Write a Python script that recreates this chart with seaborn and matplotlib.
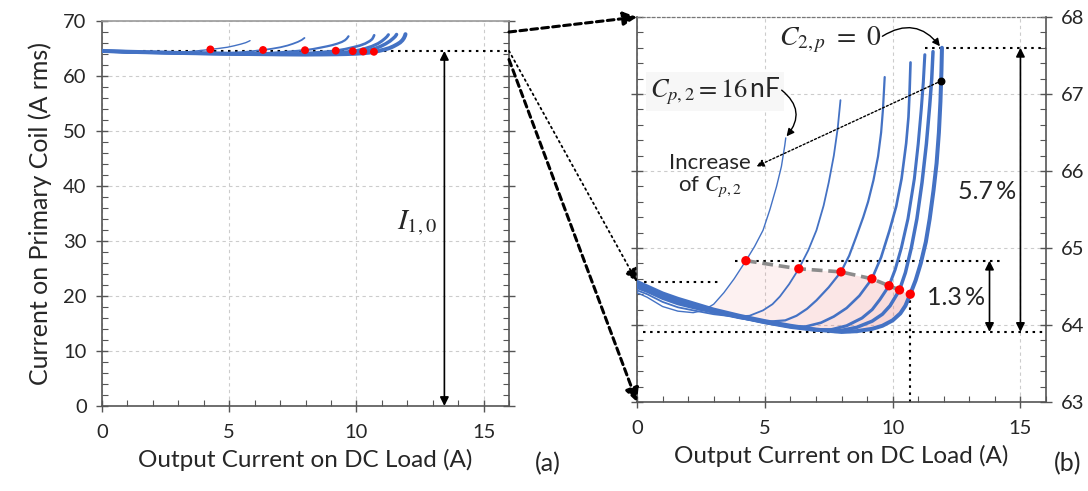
import numpy as np
import pandas as pd
import matplotlib
matplotlib.use("Agg")
import matplotlib.pyplot as plt
import seaborn as sns
from matplotlib.patches import ConnectionPatch
from matplotlib.ticker import MultipleLocator

# ---- data: primary coil current vs DC load current, one curve per Cp,2 ----
curve_ids = [1, 2, 3, 4, 5, 6, 7]   # 1 = Cp,2 = 16 nF ... 7 = C2,p = 0

x_c1 = [0, 0.4, 1.0, 1.6, 2.2, 2.6, 3.0, 3.4, 3.8, 4.26, 4.6, 4.93, 5.2, 5.46, 5.65, 5.78, 5.82]
y_c1 = [64.42, 64.36, 64.24, 64.18, 64.16, 64.19, 64.27, 64.42, 64.60, 64.835, 65.02, 65.23, 65.50,
        65.80, 66.06, 66.33, 66.43]

x_c2 = [0, 0.4, 1.0, 1.6, 2.2, 3.0, 3.8, 4.4, 4.93, 5.3, 5.59, 5.95, 6.33, 6.7, 7.02, 7.3, 7.5,
        7.7, 7.85, 7.96]
y_c2 = [64.45, 64.40, 64.30, 64.23, 64.19, 64.14, 64.11, 64.12, 64.19, 64.27, 64.37, 64.53, 64.73,
        64.97, 65.23, 65.55, 65.85, 66.2, 66.55, 66.92]

x_c3 = [0, 0.4, 1.0, 1.6, 2.2, 3.0, 4.0, 5.0, 5.8, 6.24, 6.65, 7.02, 7.5, 7.98, 8.3, 8.58, 8.85,
        9.04, 9.25, 9.43, 9.55, 9.62, 9.69]
y_c3 = [64.48, 64.43, 64.34, 64.27, 64.22, 64.16, 64.09, 64.04, 64.06, 64.12, 64.21, 64.32, 64.49,
        64.69, 64.90, 65.15, 65.40, 65.60, 65.88, 66.19, 66.5, 66.79, 67.22]

x_c4 = [0, 0.4, 1.0, 1.6, 2.2, 3.0, 4.0, 5.0, 6.0, 6.6, 7.2, 7.7, 8.2, 8.7, 9.19, 9.55, 9.88,
        10.14, 10.35, 10.53, 10.62, 10.66, 10.70]
y_c4 = [64.50, 64.45, 64.36, 64.29, 64.24, 64.17, 64.10, 64.03, 63.98, 63.98, 64.03, 64.11, 64.22,
        64.38, 64.60, 64.88, 65.23, 65.54, 65.9, 66.36, 66.7, 67.0, 67.41]

x_c5 = [0, 0.4, 1.0, 1.6, 2.2, 3.0, 4.0, 5.0, 6.0, 7.0, 7.6, 8.2, 8.8, 9.2, 9.5, 9.86, 10.1,
        10.34, 10.6, 10.85, 11.0, 11.12, 11.2, 11.26]
y_c5 = [64.52, 64.47, 64.38, 64.31, 64.26, 64.18, 64.10, 64.03, 63.97, 63.93, 63.94, 63.99, 64.09,
        64.20, 64.33, 64.51, 64.72, 65.0, 65.38, 65.9, 66.35, 66.8, 67.15, 67.51]

x_c6 = [0, 0.4, 1.0, 1.6, 2.2, 3.0, 4.0, 5.0, 6.0, 7.0, 8.0, 8.6, 9.2, 9.6, 9.9, 10.27, 10.5,
        10.73, 10.95, 11.15, 11.32, 11.45, 11.53, 11.58]
y_c6 = [64.54, 64.49, 64.40, 64.33, 64.27, 64.19, 64.11, 64.04, 63.98, 63.94, 63.93, 63.97, 64.05,
        64.14, 64.25, 64.455, 64.68, 65.0, 65.38, 65.85, 66.35, 66.85, 67.2, 67.55]

x_c7 = [0, 0.4, 1.0, 1.6, 2.2, 3.0, 4.0, 5.0, 6.0, 7.0, 8.0, 8.6, 9.2, 9.6, 10.0, 10.3, 10.5,
        10.69, 10.9, 11.1, 11.3, 11.45, 11.6, 11.72, 11.81, 11.87, 11.91, 11.93]
y_c7 = [64.56, 64.50, 64.41, 64.34, 64.28, 64.20, 64.12, 64.05, 63.99, 63.94, 63.91, 63.92, 63.95,
        63.99, 64.06, 64.15, 64.25, 64.40, 64.58, 64.80, 65.08, 65.38, 65.75, 66.1, 66.5, 66.9,
        67.3, 67.6]

# operating points (red markers) on each curve
dot_x = [4.26, 6.33, 7.98, 9.19, 9.86, 10.27, 10.69]
dot_y = [64.835, 64.73, 64.69, 64.60, 64.51, 64.455, 64.40]

# reference levels
i_10 = 64.56          # no-load primary current
i_peak = 67.6         # end of the C2,p = 0 curve
i_min = 63.91         # lowest primary current
i_op_top = 64.835     # highest operating point
mark_pt = (11.9, 67.17)
pct_full = "5.7\u2009%"
pct_op = "1.3\u2009%"

xticks = [0, 5, 10, 15]

# ---- long-form table for seaborn ----
xs_all = [x_c1, x_c2, x_c3, x_c4, x_c5, x_c6, x_c7]
ys_all = [y_c1, y_c2, y_c3, y_c4, y_c5, y_c6, y_c7]
df = pd.concat([pd.DataFrame({"curve": cid, "x": xs, "y": ys})
                for cid, xs, ys in zip(curve_ids, xs_all, ys_all)], ignore_index=True)
dots = pd.DataFrame({"x": dot_x, "y": dot_y})

sns.set_style("white")
plt.rcParams["font.family"] = ["Lato", "DejaVu Sans"]
plt.rcParams["mathtext.fontset"] = "stix"

BLUE = "#4472C4"
SPINE = "#555555"
GRID = "#cccccc"
DOT = (0, (1.2, 2.2))
LABEL_FS = 17.5
TICK_FS = 14.5

fig = plt.figure(figsize=(10.88, 4.91), dpi=100)
ax1 = fig.add_axes([102 / 1088, 85 / 491, 407 / 1088, 385 / 491])
ax2 = fig.add_axes([637 / 1088, 89 / 491, 409 / 1088, 385 / 491])

line_sizes = dict(zip(curve_ids, [1.0, 1.3, 1.6, 1.9, 2.2, 2.5, 2.9]))

for ax in (ax1, ax2):
    ax.set_xlim(0, 16)
    ax.xaxis.set_major_locator(MultipleLocator(5))
    ax.xaxis.set_minor_locator(MultipleLocator(1))
    ax.grid(True, which="major", linestyle=(0, (3, 3)), color=GRID, lw=0.8)
    ax.set_axisbelow(True)
    for s in ax.spines.values():
        s.set_color(SPINE)
        s.set_linewidth(1.2)
    ax.tick_params(which="major", direction="inout", length=8, width=1, color=SPINE,
                   labelsize=TICK_FS, pad=9)
    ax.tick_params(which="minor", direction="in", length=4, width=0.8, color=SPINE)
    sns.lineplot(data=df, x="x", y="y", hue="curve", size="curve", sizes=line_sizes,
                 palette=[BLUE] * len(curve_ids), sort=False, estimator=None,
                 legend=False, ax=ax, zorder=3)
    ax.set_xticks(xticks)
    ax.set_xticklabels([str(t) for t in xticks])

# ---- panel (a): full scale ----
ax1.set_ylim(0, 70)
ax1.yaxis.set_major_locator(MultipleLocator(10))
ax1.yaxis.set_minor_locator(MultipleLocator(2))
ax1.tick_params(axis="y", which="both", left=True, right=True)
ax1.tick_params(axis="y", which="major", pad=7)
ax1.tick_params(axis="x", which="both", bottom=True, top=False)
ax1.spines["top"].set_color("#9a9a9a")
sns.scatterplot(data=dots, x="x", y="y", color="red", s=32, edgecolor="none", ax=ax1, zorder=5)
ax1.set_xlabel("Output Current on DC Load (A)", fontsize=LABEL_FS, labelpad=6)
ax1.set_ylabel("Current on Primary Coil (A rms)", fontsize=18, labelpad=8)

ax1.plot([1.6, 16], [i_10, i_10], color="black", lw=1.5, linestyle=DOT, zorder=2)
ax1.annotate("", xy=(13.46, 0), xytext=(13.46, i_10),
             arrowprops=dict(arrowstyle="<|-|>", color="black", lw=1.2, mutation_scale=13,
                             shrinkA=0, shrinkB=0), zorder=4)
ax1.text(12.4, 33.3, r"$I_{1,0}$", fontsize=21, ha="center", va="center")

# ---- panel (b): zoomed scale ----
ax2.set_ylim(63, 68)
ax2.yaxis.set_major_locator(MultipleLocator(1))
ax2.yaxis.set_minor_locator(MultipleLocator(0.2))
ax2.yaxis.tick_right()
ax2.tick_params(axis="y", which="both", left=True, right=True, labelleft=False, labelright=True)
ax2.tick_params(axis="y", which="major", pad=7)
ax2.tick_params(axis="x", which="both", bottom=True, top=False)
ax2.spines["top"].set_linestyle((0, (2, 2)))
ax2.spines["top"].set_color("#777777")
ax2.spines["top"].set_linewidth(0.9)

# shaded region between the lower envelope and the operating-point locus
xg = np.linspace(0, dot_x[-1], 1200)
grid_vals = np.array([np.interp(xg, xs, ys, right=np.inf) for xs, ys in zip(xs_all, ys_all)])
envelope = grid_vals.min(axis=0)
locus = np.interp(xg, dot_x, dot_y, left=np.inf, right=np.inf)
for k, (xs, ys) in enumerate(zip(xs_all, ys_all)):
    x_lo = xs[int(np.argmin(ys))]
    upper = np.minimum(locus, grid_vals[k])
    mask = (xg >= x_lo) & (upper > envelope)
    ax2.fill_between(xg, envelope, np.where(mask, upper, envelope), where=mask,
                     color="#f07878", alpha=0.10 if k == 0 else 0.045, lw=0, zorder=1)

ax2.plot(dot_x, dot_y, color="#8c8c8c", lw=2.6, linestyle=(0, (3, 1.6)), zorder=4)
sns.scatterplot(data=dots, x="x", y="y", color="red", s=45, edgecolor="none", ax=ax2, zorder=6)
ax2.scatter([mark_pt[0]], [mark_pt[1]], color="black", s=22, zorder=6)
ax2.set_xlabel("Output Current on DC Load (A)", fontsize=LABEL_FS, labelpad=6)
ax2.set_ylabel("")

# dotted guide lines
ax2.plot([0, 3.16], [i_10, i_10], color="black", lw=1.5, linestyle=DOT, zorder=2)
ax2.plot([11.25, 16], [i_peak, i_peak], color="black", lw=1.5, linestyle=DOT, zorder=2)
ax2.plot([3.83, 14.25], [i_op_top, i_op_top], color="black", lw=1.5, linestyle=DOT, zorder=2)
ax2.plot([0.25, 16], [i_min, i_min], color="black", lw=1.5, linestyle=DOT, zorder=2)
ax2.plot([dot_x[-1], dot_x[-1]], [63, dot_y[-1]], color="black", lw=1.5, linestyle=DOT, zorder=2)

arr2 = dict(arrowstyle="<|-|>", color="black", lw=1.2, mutation_scale=13, shrinkA=0, shrinkB=0)
ax2.annotate("", xy=(15, i_peak), xytext=(15, i_min), arrowprops=arr2)
ax2.annotate("", xy=(13.79, i_op_top), xytext=(13.79, i_min), arrowprops=arr2)
ax2.text(13.68, 65.73, pct_full, fontsize=18, ha="center", va="center")
ax2.text(12.5, 64.36, pct_op, fontsize=18, ha="center", va="center")

ax2.text(7.54, 67.71, r"$C_{2,p}\ =\ 0$", fontsize=20, ha="center", va="center")
ax2.annotate("", xy=(11.85, i_peak + 0.02), xytext=(9.6, 67.75),
             arrowprops=dict(arrowstyle="-|>", color="black", lw=1.0, mutation_scale=11,
                             connectionstyle="arc3,rad=-0.45", shrinkA=0, shrinkB=0))

ax2.text(3.05, 67.03, r"$C_{p,2} = 16\,$nF", fontsize=19, ha="center", va="center",
         bbox=dict(boxstyle="square,pad=0.15", fc="#f7f7f7", ec="none"))
ax2.annotate("", xy=(5.85, 66.45), xytext=(5.66, 67.05),
             arrowprops=dict(arrowstyle="-|>", color="black", lw=1.0, mutation_scale=11,
                             connectionstyle="arc3,rad=-0.5", shrinkA=0, shrinkB=0))

ax2.text(2.85, 65.94, "Increase\nof $C_{p,2}$", fontsize=16, ha="center", va="center",
         linespacing=1.1)
ax2.annotate("", xy=(4.67, 66.06), xytext=mark_pt,
             arrowprops=dict(arrowstyle="-|>", color="black", lw=1.0, linestyle=(0, (1.5, 1.5)),
                             mutation_scale=11, shrinkA=0, shrinkB=0))

# zoom connectors between the two panels
for ya, yb, style, lw in [(68, 68, (0, (2.2, 1.4)), 2.2),
                          (i_10, i_10, (0, (1, 2)), 1.3),
                          (63, 63, (0, (2.2, 1.4)), 2.2)]:
    con = ConnectionPatch(xyA=(16, ya), coordsA=ax1.transData, xyB=(0, yb), coordsB=ax2.transData,
                          arrowstyle="-|>", mutation_scale=20, color="black", lw=lw,
                          linestyle=style, shrinkA=0, shrinkB=0, zorder=10)
    fig.add_artist(con)

fig.text(548 / 1088, 27 / 491, "(a)", fontsize=18, ha="center", va="center")
fig.text(1068 / 1088, 27 / 491, "(b)", fontsize=18, ha="center", va="center")

fig.savefig("out.png", dpi=100)
